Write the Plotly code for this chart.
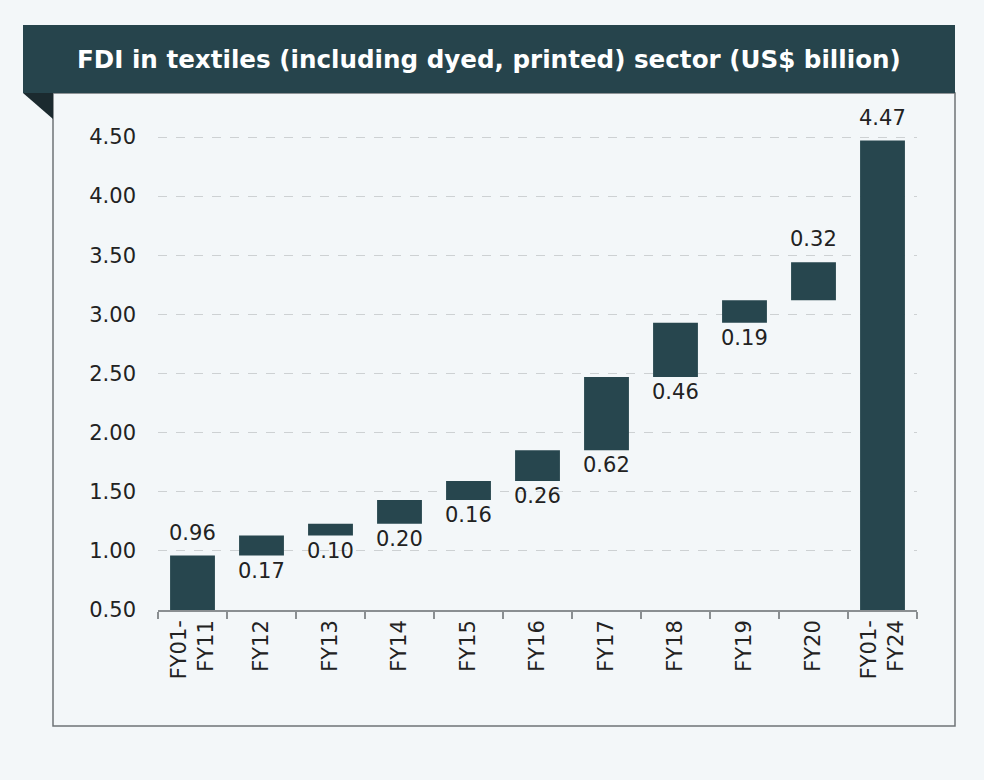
import plotly.graph_objects as go

# FDI inflows into the textiles sector, US$ billion
categories = ["FY01-<br>FY11", "FY12", "FY13", "FY14", "FY15", "FY16",
              "FY17", "FY18", "FY19", "FY20", "FY01-<br>FY24"]
values = [0.96, 0.17, 0.10, 0.20, 0.16, 0.26, 0.62, 0.46, 0.19, 0.32, 4.47]
measures = ["absolute"] + ["relative"] * 9 + ["absolute"]
label_side = ["above"] + ["below"] * 8 + ["above", "above"]
y_ticks = [0.5, 1.0, 1.5, 2.0, 2.5, 3.0, 3.5, 4.0, 4.5]

# floating-bar bases: absolute bars start at zero, relative bars start at the running total
bases, tops = [], []
running = 0.0
for v, m in zip(values, measures):
    if m == "absolute":
        base = 0.0
        running = v
    else:
        base = running
        running = running + v
    bases.append(base)
    tops.append(base + v)

BAR = "#27464e"
BG = "#f3f7f9"
FONT = "DejaVu Sans, sans-serif"
TXT = "#222222"

W, H = 984, 780
L, R, T, B = 158, 67, 120, 170
pw, ph = W - L - R, H - T - B


def px(x):
    return (x - L) / pw


def py(y):
    return (H - B - y) / ph


fig = go.Figure()
fig.add_trace(go.Bar(
    x=categories, y=values, base=bases,
    marker=dict(color=BAR, line=dict(width=0)),
    hoverinfo="skip",
))

annotations = []
for c, v, b, t, side in zip(categories, values, bases, tops, label_side):
    if side == "above":
        annotations.append(dict(x=c, y=t, xref="x", yref="y", text=f"{v:.2f}",
                                showarrow=False, yanchor="bottom", yshift=9,
                                font=dict(family=FONT, size=21, color=TXT)))
    else:
        annotations.append(dict(x=c, y=b, xref="x", yref="y", text=f"{v:.2f}",
                                showarrow=False, yanchor="top", yshift=-1,
                                font=dict(family=FONT, size=21, color=TXT)))

# header band title
annotations.append(dict(x=px(489), y=py(59), xref="paper", yref="paper",
                        text="<b>FDI in textiles (including dyed, printed) sector (US$ billion)</b>",
                        showarrow=False, xanchor="center", yanchor="middle",
                        font=dict(family=FONT, size=24.6, color="#ffffff")))

shapes = [
    # panel border
    dict(type="rect", xref="paper", yref="paper",
         x0=px(53), x1=px(955), y0=py(726), y1=py(93),
         line=dict(color="#6f7477", width=1.5), fillcolor="rgba(0,0,0,0)", layer="below"),
    # header band
    dict(type="rect", xref="paper", yref="paper",
         x0=px(23), x1=px(955), y0=py(93), y1=py(25),
         line=dict(width=0), fillcolor="#26444c", layer="above"),
    # folded corner under the header
    dict(type="path", xref="paper", yref="paper",
         path=f"M {px(23)},{py(93)} L {px(53)},{py(93)} L {px(53)},{py(119)} Z",
         line=dict(width=0), fillcolor="#1b2a2f", layer="above"),
]

fig.update_layout(
    width=W, height=H,
    margin=dict(l=L, r=R, t=T, b=B, pad=0),
    paper_bgcolor=BG, plot_bgcolor=BG,
    showlegend=False,
    bargap=0.35,
    font=dict(family=FONT, size=21, color=TXT),
    annotations=annotations,
    shapes=shapes,
    xaxis=dict(
        type="category", tickangle=-90, tickson="boundaries",
        ticks="outside", ticklen=7, tickcolor="#8a8f92", tickwidth=1.5,
        showline=True, linecolor="#8a8f92", linewidth=1.5,
        showgrid=False, tickfont=dict(family=FONT, size=21, color=TXT),
    ),
    yaxis=dict(
        range=[0.5, 0.5 + ph / 118.25], tickvals=y_ticks,
        ticktext=[f"{v:.2f}" for v in y_ticks],
        showgrid=True, gridcolor="#cdd1d3", griddash="dash", gridwidth=1,
        zeroline=False, showline=False, ticks="", ticklabelstandoff=21,
        tickfont=dict(family=FONT, size=21, color=TXT),
    ),
)

fig.write_html("out.html")
